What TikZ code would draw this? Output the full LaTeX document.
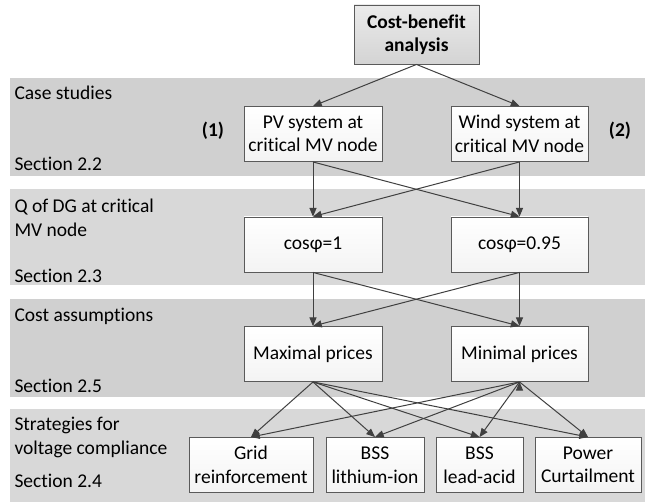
\documentclass[tikz,border=0pt]{standalone}
\usepackage{fontspec}
\setmainfont[Ligatures=NoCommon]{Carlito}
\usepackage{tikz}
\usetikzlibrary{arrows}

\definecolor{bandA}{HTML}{D0D0D0}
\definecolor{bandB}{HTML}{D8D8D8}
\definecolor{linegray}{HTML}{404040}
\definecolor{boxline}{HTML}{5A5A5A}

\newcommand{\figfont}{\fontsize{19.5}{23.5}\selectfont}

\tikzset{
  box/.style={draw=boxline, line width=0.9pt, top color=white, bottom color=gray!9,
    minimum height=55pt, inner sep=2pt, align=center},
  headbox/.style={box, top color=gray!16, bottom color=gray!34, font=\figfont\bfseries, minimum height=59pt},
  lbl/.style={anchor=west, align=left, inner sep=0pt},
  tag/.style={font=\figfont\bfseries, inner sep=0pt}
}

\begin{document}
\begin{tikzpicture}[x=1pt, y=-1pt, ->, >=triangle 45, line width=1pt,
    font=\figfont]
    	\useasboundingbox (0,0) rectangle (645,502);
    	% grey bands
    	\fill[-, bandA] (10,78) rectangle (645,176);
    	\fill[-, bandB] (10,189) rectangle (645,285);
    	\fill[-, bandA] (10,299) rectangle (645,397);
    	\fill[-, bandB] (10,409) rectangle (645,502);

    	\node[lbl] (case) at (14,93) {Case studies};
    	\node[lbl] (sec22) at (14,164) {Section 2.2};
    	\node[lbl] (qdg) at (14,218) {Q of DG at critical\\MV node};
    	\node[lbl] (sec23) at (14,276) {Section 2.3};
    	\node[lbl] (costas) at (14,316) {Cost assumptions};
    	\node[lbl] (sec25) at (14,386) {Section 2.5};
    	\node[lbl] (strat) at (14,437.5) {Strategies for\\voltage compliance};
    	\node[lbl] (sec24) at (14,481) {Section 2.4};

    	\node[headbox, minimum width=125pt] (cba) at (416.5,34.5) {Cost-benefit\\analysis};
    	\node[box, minimum width=138pt] (pv) at (313,134) {PV system at\\critical MV node};
    	\node[box, minimum width=137pt] (wind) at (519.5,134) {Wind system at\\critical MV node};
    	\node[tag] (one) at (213,131) {(1)};
    	\node[tag] (two) at (620,131) {(2)};
    	\node[box, minimum width=138pt] (cos1) at (313,244.5) {cosφ=1};
    	\node[box, minimum width=137pt] (cos2) at (519.5,244.5) {cosφ=0.95};
    	\node[box, minimum width=138pt] (maxp) at (313,354) {Maximal prices};
    	\node[box, minimum width=137pt] (minp) at (519.5,354) {Minimal prices};
    	\node[box, minimum width=124pt] (grid) at (251,465) {Grid\\reinforcement};
    	\node[box, minimum width=98pt] (li) at (375,465) {BSS\\lithium-ion};
    	\node[box, minimum width=87pt] (lead) at (479.5,465) {BSS\\lead-acid};
    	\node[box, minimum width=106pt] (curt) at (588,465) {Power\\Curtailment};

    	\draw[linegray] (cba.south) edge (pv.north)
				(cba.south) edge (wind.north)
				(pv.south) edge (cos1.north)
				(pv.south) edge (cos2.north)
				(wind.south) edge (cos1.north)
				(wind.south) edge (cos2.north)
				(cos1.south) edge (maxp.north)
				(cos1.south) edge (minp.north)
				(cos2.south) edge (maxp.north)
				(cos2.south) edge (minp.north)
				(maxp.south) edge (grid.north)
				(maxp.south) edge (li.north)
				(maxp.south) edge (lead.north)
				(maxp.south) edge (curt.north)
				(minp.south) edge (grid.north)
				(minp.south) edge (li.north)
				(minp.south) edge (lead.north)
				(minp.south) edge (curt.north)
	;
\end{tikzpicture}
\end{document}
